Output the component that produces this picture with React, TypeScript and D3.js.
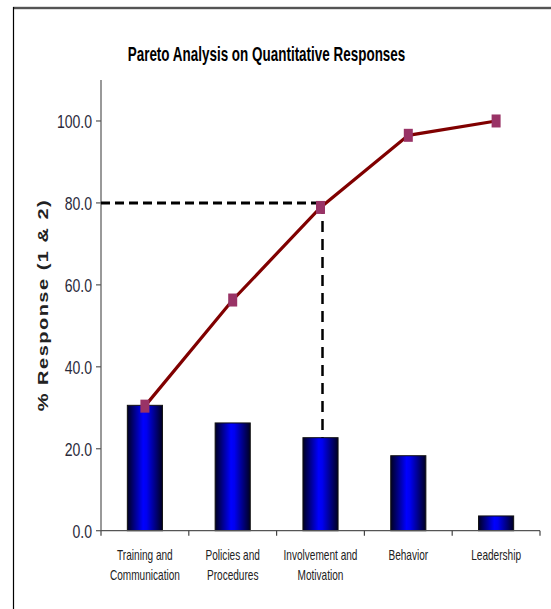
import React from "react";
import * as d3 from "d3";

const categories = [
  ["Training and", "Communication"],
  ["Policies and", "Procedures"],
  ["Involvement and", "Motivation"],
  ["Behavior"],
  ["Leadership"],
];
const barValues = [30.6, 26.3, 22.7, 18.3, 3.6];
const cumulativeValues = [30.4, 56.3, 78.9, 96.5, 100.0];
const yTicks = [0, 20, 40, 60, 80, 100];
const cutoff = 80;
const cutoffIndex = 2;

const W = 551;
const H = 609;
const left = 101;
const right = 540;
const top = 80;
const bottom = 530.7;

const sans = "'Liberation Sans', Arial, Helvetica, sans-serif";

export default function App() {
  const band = (right - left) / categories.length;
  const x = d3
    .scaleLinear()
    .domain([0, categories.length])
    .range([left, right]);
  const cx = (i: number) => x(i + 0.5);
  const bw = band * 0.4;
  const y = d3.scaleLinear().domain([0, 110]).range([bottom, top]);
  const line = d3
    .line<number>()
    .x((_, i) => cx(i))
    .y((d) => y(d));

  return (
    <svg width={W} height={H} style={{ position: "absolute", left: 0, top: 0 }}>
      <defs>
        <linearGradient id="barGrad" x1="0" x2="1" y1="0" y2="0">
          <stop offset="0" stopColor="#000022" />
          <stop offset="0.45" stopColor="#0000ff" />
          <stop offset="0.55" stopColor="#0000f0" />
          <stop offset="1" stopColor="#000022" />
        </linearGradient>
      </defs>
      <rect x={0} y={0} width={W} height={H} fill="#fff" />
      {/* frame */}
      <line x1={13} x2={W} y1={8} y2={8} stroke="#777" strokeWidth={2.5} />
      <line x1={13} x2={W} y1={8} y2={8} stroke="#222" strokeWidth={0.8} />
      <line x1={13.5} x2={13.5} y1={7} y2={H} stroke="#000" strokeWidth={1.2} />

      <g transform="translate(266.5,61) scale(0.69,1)">
        <text textAnchor="middle" fontFamily={sans} fontWeight="bold" fontSize={19.5} fill="#000">
          Pareto Analysis on Quantitative Responses
        </text>
      </g>

      {/* y axis */}
      <line x1={left} x2={left} y1={top} y2={bottom} stroke="#555" strokeWidth={1.2} />
      {yTicks.map((t) => (
        <g key={t}>
          <line x1={left - 5} x2={left} y1={y(t)} y2={y(t)} stroke="#555" strokeWidth={1.2} />
          <g transform={`translate(92,${y(t) + 7}) scale(0.78,1)`}>
            <text textAnchor="end" fontFamily={sans} fontSize={18} fill="#2a2a3a">
              {t.toFixed(1)}
            </text>
          </g>
        </g>
      ))}
      <g transform="translate(48,305) scale(0.72,1) rotate(-90)">
        <text
          textAnchor="middle"
          fontFamily={sans}
          fontWeight="bold"
          fontSize={20}
          letterSpacing={1.5}
          fill="#222"
        >
          % Response (1 &amp; 2)
        </text>
      </g>

      {/* bars */}
      {barValues.map((v, i) => (
        <rect
          key={i}
          x={cx(i) - bw / 2}
          y={y(v)}
          width={bw}
          height={bottom - y(v)}
          fill="url(#barGrad)"
          stroke="#111"
          strokeWidth={1}
        />
      ))}

      {/* x axis */}
      <line x1={left} x2={right} y1={bottom} y2={bottom} stroke="#555" strokeWidth={1.2} />
      {d3.range(categories.length + 1).map((i) => (
        <line
          key={i}
          x1={x(i)}
          x2={x(i)}
          y1={bottom}
          y2={bottom + 5}
          stroke="#444"
          strokeWidth={1.2}
        />
      ))}
      {categories.map((lines, i) =>
        lines.map((l, j) => (
          <g key={`${i}-${j}`} transform={`translate(${cx(i)},${560 + j * 20}) scale(0.72,1)`}>
            <text textAnchor="middle" fontFamily={sans} fontSize={14} fill="#222">
              {l}
            </text>
          </g>
        ))
      )}

      {/* dashed cutoff lines */}
      <line
        x1={left}
        x2={cx(cutoffIndex)}
        y1={y(cutoff)}
        y2={y(cutoff)}
        stroke="#000"
        strokeWidth={3}
        strokeDasharray="9 5"
      />
      <line
        x1={cx(cutoffIndex) + 2}
        x2={cx(cutoffIndex) + 2}
        y1={y(cutoff)}
        y2={y(barValues[cutoffIndex])}
        stroke="#000"
        strokeWidth={2.5}
        strokeDasharray="11 7"
      />

      {/* cumulative line */}
      <path d={line(cumulativeValues) || ""} fill="none" stroke="#800000" strokeWidth={3.2} />
      {cumulativeValues.map((v, i) => (
        <rect key={i} x={cx(i) - 4.5} y={y(v) - 6.5} width={9} height={13} fill="#993366" />
      ))}
    </svg>
  );
}
